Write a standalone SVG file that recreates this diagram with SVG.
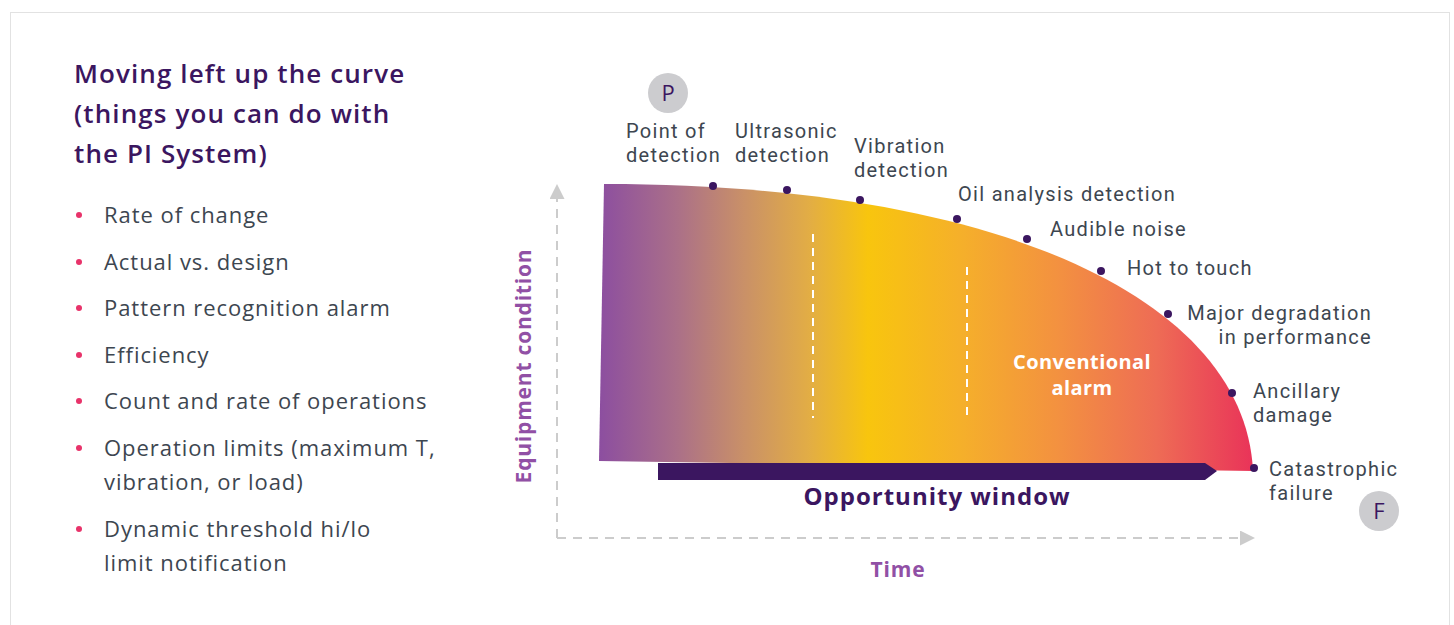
<svg xmlns="http://www.w3.org/2000/svg" width="1454" height="625" viewBox="0 0 1454 625">
<defs>
<linearGradient id="curveGrad" gradientUnits="userSpaceOnUse" x1="599" y1="0" x2="1255" y2="0">
<stop offset="0" stop-color="#8C4EA0"/>
<stop offset="0.12" stop-color="#AB7088"/>
<stop offset="0.22" stop-color="#C99068"/>
<stop offset="0.32" stop-color="#E2AD45"/>
<stop offset="0.41" stop-color="#F8C50E"/>
<stop offset="0.55" stop-color="#F5B02A"/>
<stop offset="0.70" stop-color="#F39140"/>
<stop offset="0.85" stop-color="#EE6C55"/>
<stop offset="1" stop-color="#E93259"/>
</linearGradient>
<marker id="axisArrow" viewBox="0 0 10 10" refX="0" refY="5" markerWidth="15" markerHeight="15" markerUnits="userSpaceOnUse" orient="auto">
<path d="M0,0 L10,5 L0,10 Z" fill="#CCCCCC"/>
</marker>
<style>
.lbl{font-family:Roboto,"Open Sans",sans-serif;font-size:20px;letter-spacing:1.3px;fill:#3D4650}
.item{font-family:"Open Sans","Liberation Sans",sans-serif;font-size:22px;letter-spacing:0.95px;fill:#3D4650}
.title{font-family:"Open Sans","Liberation Sans",sans-serif;font-size:26px;letter-spacing:1.1px;font-weight:600;fill:#3B1660}
.axis{font-family:"Open Sans","Liberation Sans",sans-serif;font-size:21px;letter-spacing:0.8px;font-weight:700;fill:#9150A5}
.white{font-family:"Open Sans","Liberation Sans",sans-serif;font-size:20px;letter-spacing:0.4px;font-weight:700;fill:#FFFFFF;text-anchor:middle}
.dot{fill:#3B1660}
.bullet{fill:#E8336A}
.badge{fill:#CCCCCF}
.badgeTxt{font-family:"Open Sans","Liberation Sans",sans-serif;font-size:22px;fill:#3B1660;text-anchor:middle}
.dash{stroke:#FFFFFF;stroke-width:2;stroke-dasharray:8,6;fill:none}
.axisLine{stroke:#CCCCCC;stroke-width:2;stroke-dasharray:9,7;fill:none}
</style>
</defs>
<rect x="10.5" y="12.5" width="1439" height="640" fill="#FFFFFF" stroke="#E2E2E2" stroke-width="1"/>

<g id="title">
<text class="title" x="74" y="83">Moving left up the curve<tspan x="74" y="123">(things you can do with</tspan><tspan x="74" y="163">the PI System)</tspan></text>
</g>

<g id="list">
<circle class="bullet" cx="79" cy="215" r="3"/>
<text class="item" x="104" y="223">Rate of change</text>
<circle class="bullet" cx="79" cy="262" r="3"/>
<text class="item" x="104" y="270">Actual vs. design</text>
<circle class="bullet" cx="79" cy="308" r="3"/>
<text class="item" x="104" y="316">Pattern recognition alarm</text>
<circle class="bullet" cx="79" cy="355" r="3"/>
<text class="item" x="104" y="363">Efficiency</text>
<circle class="bullet" cx="79" cy="401" r="3"/>
<text class="item" x="104" y="409">Count and rate of operations</text>
<circle class="bullet" cx="79" cy="448" r="3"/>
<text class="item" x="104" y="456">Operation limits (maximum T,<tspan x="104" y="490">vibration, or load)</tspan></text>
<circle class="bullet" cx="79" cy="529" r="3"/>
<text class="item" x="104" y="537">Dynamic threshold hi/lo<tspan x="104" y="571">limit notification</tspan></text>
</g>

<g id="axes">
<path class="axisLine" d="M557,538 L557,199" marker-end="url(#axisArrow)"/>
<path class="axisLine" d="M557,538 L1240,538" marker-end="url(#axisArrow)"/>
<text class="axis" transform="translate(531,366) rotate(-90)" text-anchor="middle">Equipment condition</text>
<text class="axis" x="898" y="577" text-anchor="middle">Time</text>
</g>

<g id="curve">
<path d="M604,184 C1000,184 1245,300 1253,471 L599,461 Z" fill="url(#curveGrad)"/>
<line class="dash" x1="813" y1="234" x2="813" y2="418"/>
<line class="dash" x1="967" y1="267" x2="967" y2="418"/>
<text class="white" x="1082" y="369">Conventional<tspan x="1082" y="395">alarm</tspan></text>
</g>

<g id="opportunity-window">
<polygon points="658,463 1205,463 1217,471 1205,480 658,480" fill="#3B1660"/>
<text x="937" y="505" text-anchor="middle" font-family="Open Sans, Liberation Sans, sans-serif" font-size="24" letter-spacing="1" font-weight="700" fill="#3B1660">Opportunity window</text>
</g>

<g id="badge-p">
<circle class="badge" cx="668" cy="93" r="20"/>
<text class="badgeTxt" x="668" y="101">P</text>
</g>
<g id="badge-f">
<circle class="badge" cx="1379" cy="511" r="20"/>
<text class="badgeTxt" x="1379" y="519">F</text>
</g>

<g id="point-of-detection">
<circle class="dot" cx="713" cy="186" r="4"/>
<text class="lbl" x="626" y="138">Point of<tspan x="626" y="162">detection</tspan></text>
</g>
<g id="ultrasonic">
<circle class="dot" cx="787" cy="190" r="4"/>
<text class="lbl" x="735" y="138">Ultrasonic<tspan x="735" y="162">detection</tspan></text>
</g>
<g id="vibration">
<circle class="dot" cx="860" cy="200" r="4"/>
<text class="lbl" x="854" y="153">Vibration<tspan x="854" y="177">detection</tspan></text>
</g>
<g id="oil-analysis">
<circle class="dot" cx="957" cy="219" r="4"/>
<text class="lbl" x="958" y="201">Oil analysis detection</text>
</g>
<g id="audible-noise">
<circle class="dot" cx="1027" cy="239" r="4"/>
<text class="lbl" x="1050" y="236">Audible noise</text>
</g>
<g id="hot-to-touch">
<circle class="dot" cx="1101" cy="271" r="4"/>
<text class="lbl" x="1127" y="275">Hot to touch</text>
</g>
<g id="major-degradation">
<circle class="dot" cx="1168" cy="314" r="4"/>
<text class="lbl" x="1372" y="320" text-anchor="end">Major degradation<tspan x="1372" y="344">in performance</tspan></text>
</g>
<g id="ancillary-damage">
<circle class="dot" cx="1232" cy="393" r="4"/>
<text class="lbl" x="1253" y="398">Ancillary<tspan x="1253" y="422">damage</tspan></text>
</g>
<g id="catastrophic-failure">
<circle class="dot" cx="1254" cy="468" r="4"/>
<text class="lbl" x="1269" y="476">Catastrophic<tspan x="1269" y="500">failure</tspan></text>
</g>
</svg>
